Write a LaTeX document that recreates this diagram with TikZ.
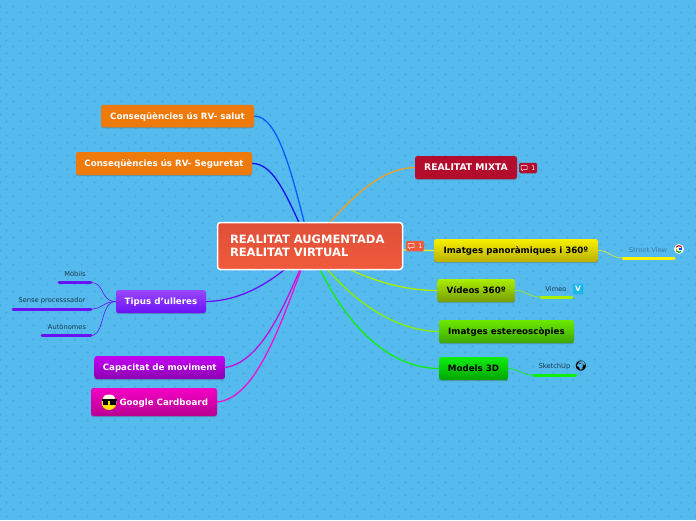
\documentclass[tikz,border=0pt]{standalone}
\usepackage{xcolor}
\usepackage{fontspec}
\setmainfont{DejaVu Sans}
\newfontfamily\emojifont{Noto Emoji}
\usetikzlibrary{positioning, calc, backgrounds, shadows}
\definecolor{sky}{HTML}{55BBEE}
\definecolor{skycross}{HTML}{4CAEE3}
\definecolor{orangebox}{HTML}{EF7A0C}
\definecolor{crimson}{HTML}{B40C2C}
\definecolor{tomato}{HTML}{F05A3C}
\definecolor{tomatotop}{HTML}{DF4F38}
\definecolor{leaftext}{HTML}{17384E}
\definecolor{salutline}{HTML}{0A5AFF}
\definecolor{seguretatline}{HTML}{1010EE}
\definecolor{mixtaline}{HTML}{F0A020}
\definecolor{ullerestop}{HTML}{9A48FF}
\definecolor{ulleresline}{HTML}{6A10F5}
\definecolor{movimenttop}{HTML}{C400F5}
\definecolor{movimentbottom}{HTML}{8C00B0}
\definecolor{movimentline}{HTML}{C010E0}
\definecolor{cardboardtop}{HTML}{F400C4}
\definecolor{cardboardbottom}{HTML}{B80092}
\definecolor{cardboardline}{HTML}{F010D0}
\definecolor{panotop}{HTML}{F8F000}
\definecolor{panobottom}{HTML}{B8B000}
\definecolor{panoline}{HTML}{E8F020}
\definecolor{videosline}{HTML}{AAEE00}
\definecolor{videosbottom}{HTML}{789C00}
\definecolor{estereotop}{HTML}{6CE800}
\definecolor{estereobottom}{HTML}{3CA800}
\definecolor{estereoline}{HTML}{88EE00}
\definecolor{modelsline}{HTML}{10EE10}
\definecolor{modelsbottom}{HTML}{00A400}
\definecolor{vimeoblue}{HTML}{1AB7EA}
\pgfdeclarelayer{paper}
\pgfsetlayers{paper,background,main}
\tikzset{
  topic/.style={rounded corners=2.5pt, inner sep=0pt, text height=6.2pt, text depth=0pt,
    font=\fontsize{8.7}{10}\selectfont\bfseries,
    drop shadow={shadow xshift=0pt, shadow yshift=-1.2pt, opacity=0.3, fill=black!70}},
  whitetopic/.style={topic, text=white},
  blacktopic/.style={topic, text=black},
  leaflabel/.style={inner sep=0pt, font=\fontsize{6.7}{8}\selectfont, text=leaftext},
  branch/.style={line width=1.3pt},
  twig/.style={line width=0.6pt},
  leafline/.style={line width=3pt, line cap=round},
  badge/.style={rounded corners=1.5pt, inner sep=0pt, minimum width=18pt, minimum height=10.5pt,
    font=\fontsize{6.4}{7}\selectfont, text=white, align=right, text width=15pt},
  bubble/.pic={\draw[white, line width=0.5pt, line join=round] (-3,-2.4) -- (3,-2.4) -- (3,1.6) -- (-0.4,1.6) -- (-2,3) -- (-2,1.6) -- (-3,1.6) -- cycle;}
}
\begin{document}
\begin{tikzpicture}[x=1pt, y=-1pt]
\useasboundingbox (0,0) rectangle (696,520);
% background crosses
\begin{pgfonlayer}{paper}
\fill[sky] (0,0) rectangle (696,520);
\foreach \row in {0,...,76}{
  \pgfmathsetmacro{\shift}{mod(\row,2)*6.75}
  \foreach \col in {0,...,52}{
    \fill[skycross] ({\col*13.5+\shift-1.5},{\row*6.8+6-0.4}) rectangle ++(3,0.8);
    \fill[skycross] ({\col*13.5+\shift-0.4},{\row*6.8+6-1.5}) rectangle ++(0.8,3);
  }
}
\end{pgfonlayer}

% central node
\node[rounded corners=3pt, draw=white, line width=1.5pt, top color=tomatotop, bottom color=tomato,
      minimum width=185pt, minimum height=47pt, inner sep=0pt, text=white, align=left, text width=160pt,
      font=\fontsize{11.5}{13.5}\selectfont\bfseries]
      (root) at (310,246) {REALITAT AUGMENTADA\\REALITAT VIRTUAL};
\node[badge, fill=tomato] (rootnote) at (415,246) {1};
\pic at (411,246) {bubble};

% left side
\node[whitetopic, fill=orangebox, minimum width=153pt, minimum height=22.5pt] (salut) at (177.5,116) {Conseqüències ús RV- salut};
\node[whitetopic, fill=orangebox, minimum width=176pt, minimum height=23pt] (seguretat) at (164,163.5) {Conseqüències ús RV- Seguretat};
\node[whitetopic, top color=ullerestop, bottom color=ulleresline, minimum width=90pt, minimum height=23pt] (ulleres) at (161,301.5) {Tipus d{\char"27}ulleres};
\node[whitetopic, top color=movimenttop, bottom color=movimentbottom, minimum width=130.5pt, minimum height=23pt] (moviment) at (159.7,367.5) {Capacitat de moviment};
\node[whitetopic, top color=cardboardtop, bottom color=cardboardbottom, minimum width=126pt, minimum height=28pt, text width=112pt, align=right] (cardboard) at (154,402) {Google Cardboard\hspace*{2pt}};

% sunglasses face
\fill[yellow!85!orange] (109,402.5) circle (7.5);
\fill[white!90!yellow] (109,397.6) ellipse (6 and 3);
\fill[black] (101.5,399) rectangle (116.5,400.5);
\fill[black] (102.5,400) rectangle (108.3,404.5);
\fill[black] (109.7,400) rectangle (115.5,404.5);

% leaves of Tipus d'ulleres
\node[leaflabel] (mobils) at (75,273.5) {Mòbils};
\node[leaflabel] (sense) at (52,300.5) {Sense processsador};
\node[leaflabel] (autonomes) at (67,326.5) {Autònomes};
\coordinate (mobilsA) at (59,282.5);
\coordinate (mobilsB) at (91,282.5);
\coordinate (senseA) at (13,309);
\coordinate (senseB) at (91,309);
\coordinate (autonomesA) at (42,335.5);
\coordinate (autonomesB) at (91,335.5);

% right side
\node[whitetopic, fill=crimson, minimum width=102pt, minimum height=23pt, font=\fontsize{9.2}{10}\selectfont\bfseries] (mixta) at (466,167.5) {REALITAT MIXTA};
\node[badge, fill=crimson] (mixtanote) at (528,168) {1};
\pic at (524,168) {bubble};
\node[blacktopic, top color=panotop, bottom color=panobottom, minimum width=164pt, minimum height=23pt] (panoramiques) at (516,250.5) {Imatges panoràmiques i 360º};
\node[blacktopic, top color=videosline, bottom color=videosbottom, minimum width=77.5pt, minimum height=23pt] (videos) at (476.2,290.5) {Vídeos 360º};
\node[blacktopic, top color=estereotop, bottom color=estereobottom, minimum width=135pt, minimum height=23pt] (estereo) at (506.5,331.5) {Imatges estereoscòpies};
\node[blacktopic, top color=modelsline, bottom color=modelsbottom, minimum width=69pt, minimum height=23pt] (models) at (473.5,368.5) {Models 3D};

% leaves on the right
\node[leaflabel, text=leaftext!45!sky] (street) at (648,249.5) {Street View};
\coordinate (streetA) at (623,258);
\coordinate (streetB) at (674,258);
\node[leaflabel] (vimeo) at (556,288.5) {Vimeo};
\coordinate (vimeoA) at (541,297);
\coordinate (vimeoB) at (572,297);
\node[leaflabel] (sketchup) at (554.5,366.5) {SketchUp};
\coordinate (sketchupA) at (533,375);
\coordinate (sketchupB) at (576,375);

% icons
\node[fill=vimeoblue, rounded corners=1pt, minimum size=10.5pt, inner sep=0pt, text=white,
      font=\fontsize{7.5}{7.5}\selectfont\bfseries] (vimeoicon) at (578,289) {V};
\fill[white] (679,249) circle (5);
\draw[red!80!black, line width=1.1pt] (676.2,247.3) arc (-150:-30:3.2);
\draw[yellow!80!orange, line width=1.1pt] (676.2,250.7) arc (150:210:3.2);
\draw[green!60!black, line width=1.1pt] (676.2,250.7) arc (150:50:3.2);
\draw[blue!70!cyan, line width=1.1pt] (681.8,249) -- (679,249);
\node[inner sep=0pt, text=black, font=\emojifont\fontsize{10}{10}\selectfont] (globe) at (581,366.5) {🌍};

% connectors, drawn behind the boxes
\begin{scope}[on background layer]
\draw[branch, salutline] (salut.east) .. controls (278,116) and (292,172) .. (root.center);
\draw[branch, seguretatline] (seguretat.east) .. controls (276,163) and (290,205) .. (root.center);
\draw[branch, mixtaline] (mixta.west) .. controls (375,168) and (340,210) .. (root.center);
\draw[branch, ulleresline] (ulleres.east) .. controls (240,301) and (275,283) .. (root.center);
\draw[branch, movimentline] (moviment.east) .. controls (262,362) and (285,305) .. (root.center);
\draw[branch, cardboardline] (cardboard.east) .. controls (258,398) and (282,320) .. (root.center);
\draw[branch, panoline] (root.center) .. controls (370,250) and (400,250) .. (panoramiques.west);
\draw[branch, videosline] (root.center) .. controls (345,272) and (395,291) .. (videos.west);
\draw[branch, estereoline] (root.center) .. controls (335,285) and (385,331) .. (estereo.west);
\draw[branch, modelsline] (root.center) .. controls (335,310) and (380,368) .. (models.west);
% twigs
\draw[twig, ulleresline] (ulleres.west) .. controls (100,301.5) and (105,282.5) .. (mobilsB);
\draw[twig, ulleresline] (ulleres.west) .. controls (103,301.5) and (103,309) .. (senseB);
\draw[twig, ulleresline] (ulleres.west) .. controls (100,301.5) and (105,335.5) .. (autonomesB);
\draw[leafline, ulleresline] (mobilsA) -- (mobilsB);
\draw[leafline, ulleresline] (senseA) -- (senseB);
\draw[leafline, ulleresline] (autonomesA) -- (autonomesB);
\draw[twig, panoline] (panoramiques.east) .. controls (610,250.5) and (610,258) .. (streetA);
\draw[leafline, yellow] (streetA) -- (streetB);
\draw[twig, videosline] (videos.east) .. controls (527,290.5) and (527,297) .. (vimeoA);
\draw[leafline, videosline] (vimeoA) -- (vimeoB);
\draw[twig, modelsline] (models.east) .. controls (520,368.5) and (520,375) .. (sketchupA);
\draw[leafline, modelsline] (sketchupA) -- (sketchupB);
\end{scope}
\end{tikzpicture}
\end{document}
